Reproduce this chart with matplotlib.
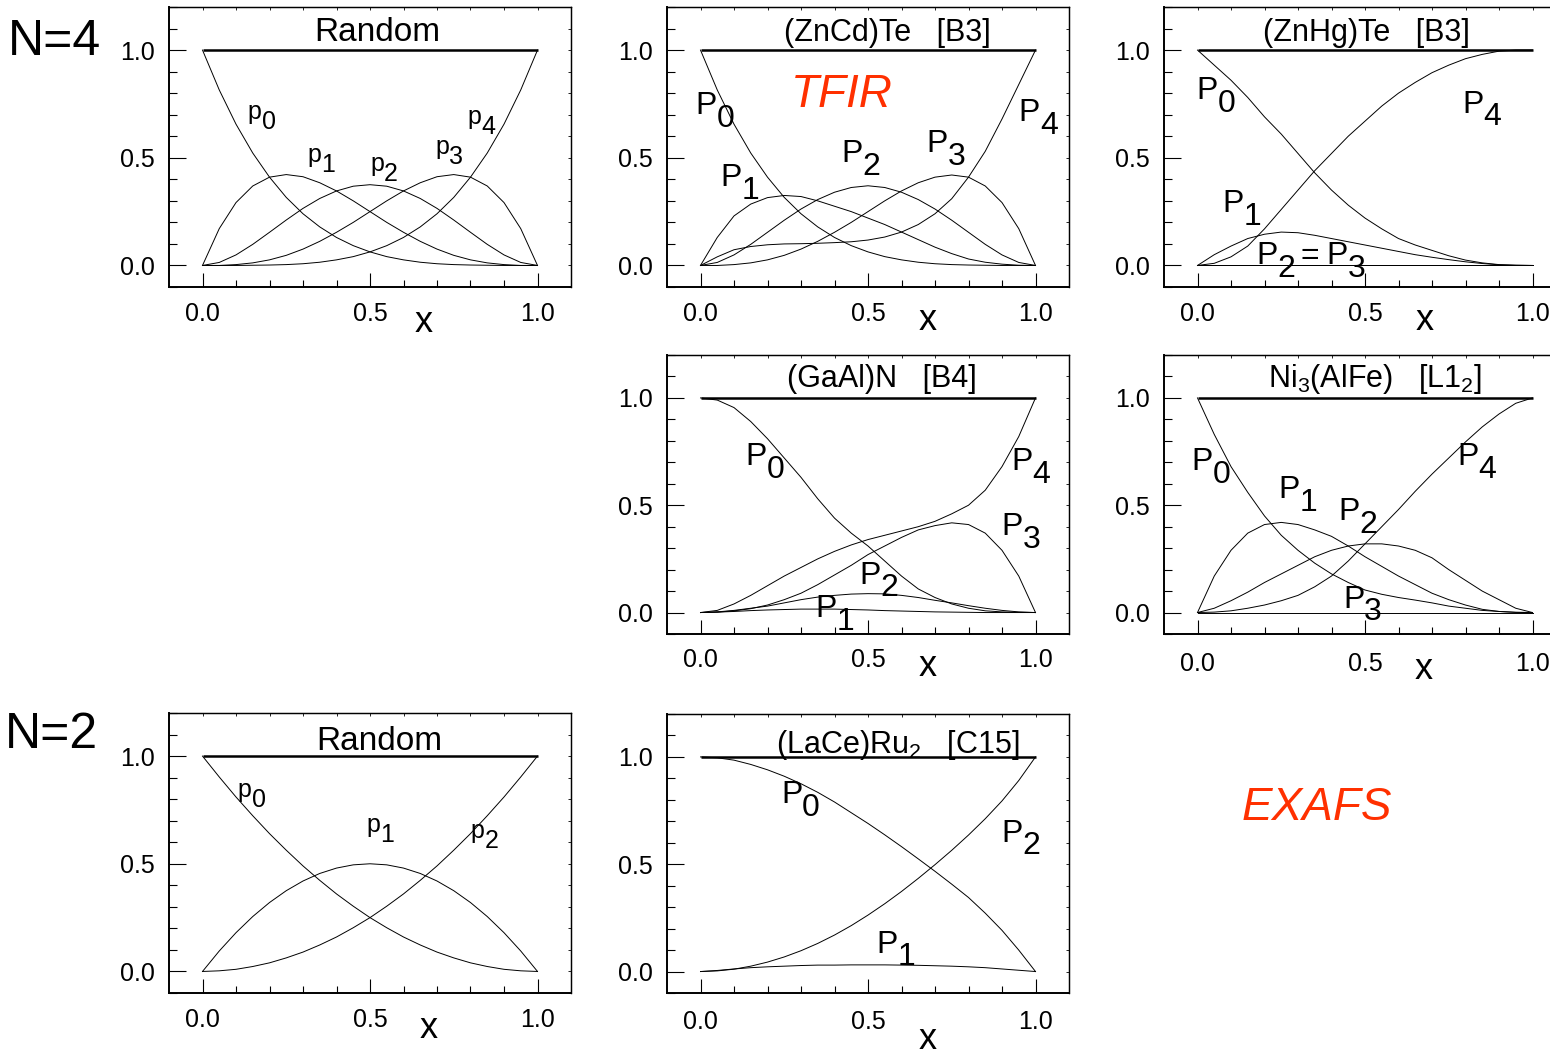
import matplotlib
matplotlib.use("Agg")
import matplotlib.pyplot as plt
from matplotlib.ticker import MultipleLocator, FixedLocator

plt.rcParams['font.family'] = ['Liberation Sans', 'DejaVu Sans']
plt.rcParams['mathtext.fontset'] = 'custom'
plt.rcParams['mathtext.rm'] = 'Liberation Sans'
plt.rcParams['mathtext.it'] = 'Liberation Sans:italic'
plt.rcParams['mathtext.bf'] = 'Liberation Sans:bold'

# ---------------- data ----------------
x = [0.00, 0.05, 0.10, 0.15, 0.20, 0.25, 0.30, 0.35, 0.40, 0.45, 0.50,
     0.55, 0.60, 0.65, 0.70, 0.75, 0.80, 0.85, 0.90, 0.95, 1.00]
total_x = [0.0, 1.0]
total_y = [1.0, 1.0]

# N=4 Random
rnd4_p0 = [1.000, 0.815, 0.656, 0.522, 0.410, 0.316, 0.240, 0.179, 0.130, 0.092, 0.063,
           0.041, 0.026, 0.015, 0.008, 0.004, 0.002, 0.001, 0.000, 0.000, 0.000]
rnd4_p1 = [0.000, 0.171, 0.292, 0.369, 0.410, 0.422, 0.412, 0.384, 0.346, 0.300, 0.250,
           0.200, 0.154, 0.112, 0.076, 0.047, 0.026, 0.012, 0.004, 0.000, 0.000]
rnd4_p2 = [0.000, 0.014, 0.049, 0.098, 0.154, 0.211, 0.265, 0.311, 0.346, 0.368, 0.375,
           0.368, 0.346, 0.311, 0.265, 0.211, 0.154, 0.098, 0.049, 0.014, 0.000]
rnd4_p3 = [0.000, 0.000, 0.004, 0.012, 0.026, 0.047, 0.076, 0.112, 0.154, 0.200, 0.250,
           0.300, 0.346, 0.384, 0.412, 0.422, 0.410, 0.369, 0.292, 0.171, 0.000]
rnd4_p4 = [0.000, 0.000, 0.000, 0.001, 0.002, 0.004, 0.008, 0.015, 0.026, 0.041, 0.063,
           0.092, 0.130, 0.179, 0.240, 0.316, 0.410, 0.522, 0.656, 0.815, 1.000]

# (ZnCd)Te [B3]
zc_p0 = [1.000, 0.815, 0.656, 0.522, 0.410, 0.316, 0.240, 0.179, 0.130, 0.092, 0.063,
         0.041, 0.026, 0.015, 0.008, 0.004, 0.002, 0.001, 0.000, 0.000, 0.000]
zc_p1 = [0.000, 0.130, 0.230, 0.285, 0.315, 0.325, 0.320, 0.300, 0.275, 0.250, 0.220,
         0.190, 0.155, 0.120, 0.085, 0.055, 0.030, 0.015, 0.006, 0.001, 0.000]
zc_p2 = [0.000, 0.014, 0.049, 0.098, 0.154, 0.210, 0.262, 0.306, 0.340, 0.362, 0.370,
         0.362, 0.340, 0.306, 0.262, 0.210, 0.154, 0.098, 0.049, 0.014, 0.000]
zc_p3 = [0.000, 0.000, 0.004, 0.012, 0.026, 0.047, 0.076, 0.112, 0.154, 0.200, 0.250,
         0.300, 0.346, 0.384, 0.410, 0.420, 0.410, 0.369, 0.292, 0.171, 0.000]
zc_p4 = [0.000, 0.040, 0.073, 0.088, 0.096, 0.100, 0.101, 0.103, 0.106, 0.110, 0.118,
         0.132, 0.155, 0.190, 0.240, 0.310, 0.410, 0.530, 0.680, 0.840, 1.000]

# (ZnHg)Te [B3]
zh_p0 = [1.000, 0.930, 0.860, 0.780, 0.690, 0.610, 0.520, 0.430, 0.350, 0.280, 0.220,
         0.170, 0.125, 0.095, 0.070, 0.045, 0.025, 0.012, 0.004, 0.001, 0.000]
zh_p1 = [0.000, 0.050, 0.090, 0.125, 0.145, 0.155, 0.152, 0.140, 0.125, 0.110, 0.095,
         0.080, 0.065, 0.050, 0.038, 0.027, 0.017, 0.009, 0.003, 0.001, 0.000]
zh_p2 = [0.000, 0.000, 0.000, 0.000, 0.000, 0.000, 0.000, 0.000, 0.000, 0.000, 0.000,
         0.000, 0.000, 0.000, 0.000, 0.000, 0.000, 0.000, 0.000, 0.000, 0.000]
zh_p3 = [0.000, 0.000, 0.000, 0.000, 0.000, 0.000, 0.000, 0.000, 0.000, 0.000, 0.000,
         0.000, 0.000, 0.000, 0.000, 0.000, 0.000, 0.000, 0.000, 0.000, 0.000]
zh_p4 = [0.000, 0.010, 0.040, 0.090, 0.170, 0.260, 0.350, 0.440, 0.520, 0.600, 0.670,
         0.740, 0.800, 0.850, 0.895, 0.930, 0.960, 0.980, 0.995, 1.000, 1.000]

# (GaAl)N [B4]
ga_p0 = [1.000, 0.990, 0.955, 0.890, 0.810, 0.720, 0.630, 0.530, 0.440, 0.370, 0.310,
         0.240, 0.170, 0.110, 0.070, 0.040, 0.020, 0.008, 0.003, 0.001, 0.000]
ga_p1 = [0.000, 0.002, 0.005, 0.009, 0.012, 0.014, 0.016, 0.016, 0.016, 0.014, 0.012,
         0.009, 0.007, 0.005, 0.003, 0.002, 0.001, 0.000, 0.000, 0.000, 0.000]
ga_p2 = [0.000, 0.003, 0.010, 0.020, 0.030, 0.045, 0.060, 0.072, 0.080, 0.086, 0.088,
         0.087, 0.080, 0.070, 0.057, 0.045, 0.032, 0.020, 0.010, 0.003, 0.000]
ga_p3 = [0.000, 0.002, 0.008, 0.018, 0.035, 0.060, 0.090, 0.130, 0.175, 0.220, 0.270,
         0.310, 0.350, 0.385, 0.405, 0.418, 0.410, 0.370, 0.290, 0.170, 0.000]
ga_p4 = [0.000, 0.010, 0.040, 0.080, 0.125, 0.170, 0.210, 0.250, 0.285, 0.315, 0.340,
         0.360, 0.380, 0.400, 0.425, 0.460, 0.500, 0.570, 0.680, 0.820, 1.000]

# Ni3(AlFe) [L12]
ni_p0 = [1.000, 0.830, 0.680, 0.560, 0.450, 0.360, 0.290, 0.230, 0.180, 0.140, 0.105,
         0.085, 0.070, 0.058, 0.045, 0.030, 0.020, 0.010, 0.005, 0.001, 0.000]
ni_p1 = [0.000, 0.170, 0.290, 0.370, 0.410, 0.420, 0.410, 0.385, 0.355, 0.310, 0.260,
         0.215, 0.170, 0.130, 0.090, 0.060, 0.035, 0.015, 0.005, 0.001, 0.000]
ni_p2 = [0.000, 0.020, 0.055, 0.095, 0.140, 0.180, 0.220, 0.260, 0.290, 0.310, 0.320,
         0.320, 0.310, 0.290, 0.255, 0.200, 0.150, 0.100, 0.060, 0.020, 0.000]
ni_p3 = [0.000, 0.000, 0.000, 0.000, 0.000, 0.000, 0.000, 0.000, 0.000, 0.000, 0.000,
         0.000, 0.000, 0.000, 0.000, 0.000, 0.000, 0.000, 0.000, 0.000, 0.000]
ni_p4 = [0.000, 0.002, 0.008, 0.020, 0.035, 0.055, 0.080, 0.120, 0.170, 0.240, 0.320,
         0.400, 0.480, 0.565, 0.645, 0.720, 0.795, 0.865, 0.925, 0.975, 1.000]

# N=2 Random
r2_p0 = [1.000, 0.903, 0.810, 0.723, 0.640, 0.563, 0.490, 0.423, 0.360, 0.303, 0.250,
         0.203, 0.160, 0.123, 0.090, 0.063, 0.040, 0.023, 0.010, 0.003, 0.000]
r2_p1 = [0.000, 0.095, 0.180, 0.255, 0.320, 0.375, 0.420, 0.455, 0.480, 0.495, 0.500,
         0.495, 0.480, 0.455, 0.420, 0.375, 0.320, 0.255, 0.180, 0.095, 0.000]
r2_p2 = [0.000, 0.003, 0.010, 0.023, 0.040, 0.063, 0.090, 0.123, 0.160, 0.203, 0.250,
         0.303, 0.360, 0.423, 0.490, 0.563, 0.640, 0.723, 0.810, 0.903, 1.000]

# (LaCe)Ru2 [C15]
la_p0 = [1.000, 0.996, 0.985, 0.965, 0.940, 0.910, 0.875, 0.835, 0.790, 0.740, 0.690,
         0.637, 0.582, 0.525, 0.467, 0.407, 0.345, 0.272, 0.192, 0.100, 0.000]
la_p1 = [0.000, 0.005, 0.012, 0.018, 0.022, 0.025, 0.028, 0.030, 0.030, 0.031, 0.031,
         0.031, 0.030, 0.029, 0.027, 0.025, 0.022, 0.018, 0.012, 0.006, 0.000]
la_p2 = [0.000, 0.003, 0.011, 0.025, 0.044, 0.068, 0.097, 0.131, 0.170, 0.214, 0.263,
         0.316, 0.373, 0.434, 0.498, 0.565, 0.636, 0.712, 0.795, 0.890, 1.000]

major_ticks = [0.0, 0.5, 1.0]
tick_labels = ['0.0', '0.5', '1.0']

RED = '#ff3000'
W, H = 1550.0, 1055.0

fig = plt.figure(figsize=(15.5, 10.55), dpi=100)


def make_ax(left, top, bottom, xpad, width=402):
    ax = fig.add_axes([left / W, 1 - bottom / H, width / W, (bottom - top) / H])
    ax.set_xlim(-0.1, 1.1)
    ax.set_ylim(-0.1, 1.2)
    ax.set_xticks(major_ticks)
    ax.set_xticklabels(tick_labels)
    ax.set_yticks(major_ticks)
    ax.set_yticklabels(tick_labels)
    ax.xaxis.set_minor_locator(FixedLocator([0.1, 0.2, 0.3, 0.4, 0.6, 0.7, 0.8, 0.9]))
    ax.yaxis.set_minor_locator(MultipleLocator(0.1))
    ax.tick_params(axis='x', which='major', direction='in', length=10, width=0.8,
                   pad=xpad, labelsize=18)
    ax.tick_params(axis='x', which='minor', direction='in', length=5, width=0.8)
    ax.tick_params(axis='y', which='major', direction='in', length=12, width=0.8,
                   pad=10, labelsize=18)
    ax.tick_params(axis='y', which='minor', direction='in', length=6, width=0.8)
    for side in ['top', 'right']:
        ax.spines[side].set_linewidth(0.9)
    for side in ['left', 'bottom']:
        ax.spines[side].set_linewidth(1.4)
    sx = ax.secondary_xaxis('top')
    sx.xaxis.set_major_locator(MultipleLocator(0.1))
    sx.tick_params(direction='in', length=2, width=0.6, labeltop=False)
    sx.spines['top'].set_linewidth(0.9)
    sy = ax.secondary_yaxis('right')
    sy.yaxis.set_major_locator(MultipleLocator(0.1))
    sy.tick_params(direction='in', length=2, width=0.6, labelright=False)
    sy.spines['right'].set_linewidth(0.9)
    ax.plot(total_x, total_y, color='black', lw=1.8, solid_capstyle='butt')
    return ax


def curves(ax, series):
    for s in series:
        ax.plot(x, s, color='black', lw=0.7)


def plabel(ax, xx, yy, main, sub, fs):
    ax.text(xx, yy, main, fontsize=fs, ha='left', va='baseline')
    w = {'P': 0.667, 'p': 0.556}[main]
    ax.annotate(sub, xy=(xx, yy), xycoords='data', xytext=(w * fs, -0.4 * fs),
                textcoords='offset points', fontsize=fs, ha='left', va='baseline')


def title(ax, xx, yy, txt, fs=22):
    ax.text(xx, yy, txt, fontsize=fs, ha='center', va='baseline')


def xlab(ax, xx, yy):
    ax.text(xx, yy, 'x', fontsize=26, ha='center', va='baseline', clip_on=False)


UP = 23
LO = 18

# Panel A: N=4 Random
axA = make_ax(169, 7, 287, 11)
curves(axA, [rnd4_p0, rnd4_p1, rnd4_p2, rnd4_p3, rnd4_p4])
title(axA, 0.521, 1.04, 'Random', 24)
plabel(axA, 0.135, 0.68, 'p', '0', LO)
plabel(axA, 0.314, 0.479, 'p', '1', LO)
plabel(axA, 0.50, 0.437, 'p', '2', LO)
plabel(axA, 0.695, 0.516, 'p', '3', LO)
plabel(axA, 0.79, 0.656, 'p', '4', LO)
xlab(axA, 0.66, -0.31)

# Panel B: (ZnCd)Te
axB = make_ax(667, 7, 287, 11)
curves(axB, [zc_p0, zc_p1, zc_p2, zc_p3, zc_p4])
title(axB, 0.557, 1.04, '(ZnCd)Te   [B3]')
plabel(axB, -0.015, 0.703, 'P', '0', UP)
plabel(axB, 0.06, 0.368, 'P', '1', UP)
plabel(axB, 0.42, 0.48, 'P', '2', UP)
plabel(axB, 0.674, 0.526, 'P', '3', UP)
plabel(axB, 0.95, 0.67, 'P', '4', UP)
axB.text(0.27, 0.736, 'TFIR', fontsize=33, style='italic', color=RED,
         ha='left', va='baseline')
xlab(axB, 0.677, -0.30)

# Panel C: (ZnHg)Te
axC = make_ax(1164, 7, 287, 11)
curves(axC, [zh_p0, zh_p1, zh_p2, zh_p3, zh_p4])
title(axC, 0.503, 1.04, '(ZnHg)Te   [B3]')
plabel(axC, -0.003, 0.772, 'P', '0', UP)
plabel(axC, 0.075, 0.246, 'P', '1', UP)
plabel(axC, 0.79, 0.71, 'P', '4', UP)
x0c, y0c = 0.176, 0.005
axC.text(x0c, y0c, 'P', fontsize=UP, ha='left', va='baseline')
axC.annotate('2', xy=(x0c, y0c), xytext=(0.667 * UP, -0.4 * UP),
             textcoords='offset points', fontsize=UP, ha='left', va='baseline')
axC.annotate('=', xy=(x0c, y0c), xytext=(1.38 * UP, 0),
             textcoords='offset points', fontsize=UP, ha='left', va='baseline')
axC.annotate('P', xy=(x0c, y0c), xytext=(2.2 * UP, 0),
             textcoords='offset points', fontsize=UP, ha='left', va='baseline')
axC.annotate('3', xy=(x0c, y0c), xytext=(2.87 * UP, -0.4 * UP),
             textcoords='offset points', fontsize=UP, ha='left', va='baseline')
xlab(axC, 0.677, -0.30)

# Panel D: (GaAl)N
axD = make_ax(667, 355, 634, 10)
curves(axD, [ga_p0, ga_p1, ga_p2, ga_p3, ga_p4])
title(axD, 0.542, 1.05, '(GaAl)N   [B4]')
plabel(axD, 0.135, 0.687, 'P', '0', UP)
plabel(axD, 0.344, -0.02, 'P', '1', UP)
plabel(axD, 0.473, 0.135, 'P', '2', UP)
plabel(axD, 0.898, 0.36, 'P', '3', UP)
plabel(axD, 0.928, 0.664, 'P', '4', UP)
xlab(axD, 0.677, -0.294)

# Panel E: Ni3(AlFe)
axE = make_ax(1164, 355, 634, 13)
curves(axE, [ni_p0, ni_p1, ni_p2, ni_p3, ni_p4])
title(axE, 0.53, 1.05, r'Ni$_3$(AlFe)   [L1$_2$]')
plabel(axE, -0.018, 0.664, 'P', '0', UP)
plabel(axE, 0.24, 0.533, 'P', '1', UP)
plabel(axE, 0.42, 0.43, 'P', '2', UP)
plabel(axE, 0.434, 0.023, 'P', '3', UP)
plabel(axE, 0.775, 0.687, 'P', '4', UP)
xlab(axE, 0.674, -0.31)

# Panel F: N=2 Random
axF = make_ax(169, 713, 993, 11)
curves(axF, [r2_p0, r2_p1, r2_p2])
title(axF, 0.527, 1.03, 'Random', 24)
plabel(axF, 0.105, 0.81, 'p', '0', LO)
plabel(axF, 0.49, 0.647, 'p', '1', LO)
plabel(axF, 0.80, 0.62, 'p', '2', LO)
xlab(axF, 0.674, -0.31)

# Panel G: (LaCe)Ru2
axG = make_ax(667, 714, 993, 12)
curves(axG, [la_p0, la_p1, la_p2])
title(axG, 0.59, 1.02, r'(LaCe)Ru$_2$   [C15]')
plabel(axG, 0.24, 0.786, 'P', '0', UP)
plabel(axG, 0.524, 0.088, 'P', '1', UP)
plabel(axG, 0.898, 0.605, 'P', '2', UP)
xlab(axG, 0.677, -0.36)

# Figure texts
fig.text(8 / W, 1 - 55 / H, 'N=4', fontsize=36, ha='left', va='baseline')
fig.text(5 / W, 1 - 748 / H, 'N=2', fontsize=36, ha='left', va='baseline')
fig.text(1242 / W, 1 - 820 / H, 'EXAFS', fontsize=33, style='italic', color=RED,
         ha='left', va='baseline')

fig.savefig('out.png', dpi=100)
